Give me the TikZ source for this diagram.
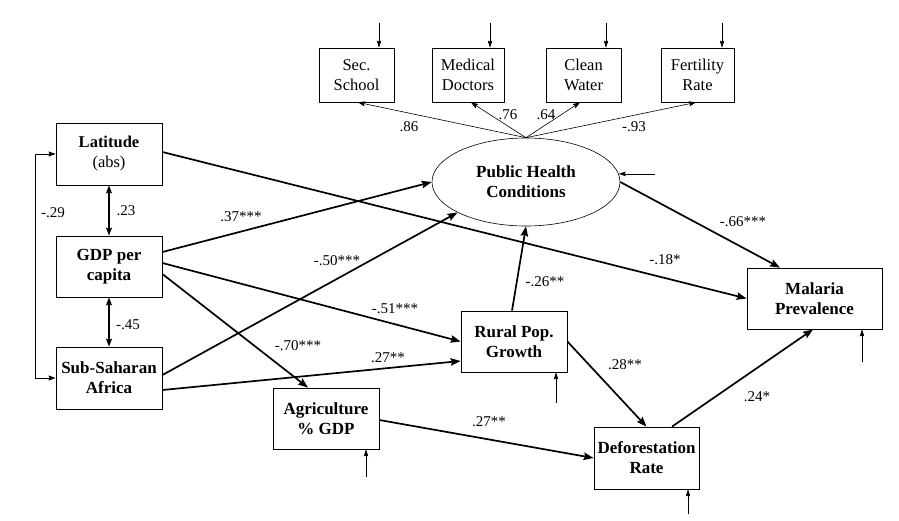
\documentclass[tikz,border=0pt]{standalone}
\usepackage{fontspec}
\setmainfont{Liberation Serif}
\usetikzlibrary{arrows.meta,calc,shapes.geometric}
\begin{document}
\begin{tikzpicture}[x=1pt,y=-1pt,
  box/.style={draw,line width=0.8pt,inner sep=1pt,align=center,font=\fontsize{16.5}{20}\selectfont},
  bbox/.style={box,font=\fontsize{17}{20}\selectfont\bfseries},
  thk/.style={line width=1.7pt,-{Stealth[length=10pt,width=7.5pt,inset=1.5pt]}},
  dbl/.style={line width=1.6pt,{Stealth[length=8pt,width=6pt,inset=1.5pt]}-{Stealth[length=8pt,width=6pt,inset=1.5pt]}},
  brk/.style={line width=1pt,{Stealth[length=7pt,width=5pt,inset=1pt]}-{Stealth[length=7pt,width=5pt,inset=1pt]}},
  ld/.style={line width=0.6pt,-{Stealth[length=7pt,width=5pt,inset=1pt]}},
  err/.style={line width=0.6pt,-{Stealth[length=7pt,width=4.5pt,inset=1pt]}},
  lbl/.style={font=\fontsize{15}{17}\selectfont,inner sep=0pt}]
\useasboundingbox (0,0) rectangle (899,520);
% indicator boxes
\node[box,minimum width=75pt,minimum height=54pt] (sec) at (356.5,75) {Sec.\\School};
\node[box,minimum width=72pt,minimum height=54pt] (med) at (468,75) {Medical\\Doctors};
\node[box,minimum width=75pt,minimum height=54pt] (clean) at (583.5,75) {Clean\\Water};
\node[box,minimum width=73pt,minimum height=54pt] (fert) at (697.5,75) {Fertility\\Rate};
% latent
\node[ellipse,draw,line width=0.6pt,inner sep=0pt,minimum width=188pt,minimum height=88pt,align=center,font=\fontsize{17}{20}\selectfont\bfseries] (phc) at (526,182) {Public Health\\Conditions};
% left boxes
\node[box,minimum width=106pt,minimum height=62pt] (lat) at (109,154) {\textbf{Latitude}\\(abs)};
\node[bbox,minimum width=106pt,minimum height=61pt] (gdp) at (109,266.5) {GDP per\\capita};
\node[bbox,minimum width=106pt,minimum height=62pt] (ssa) at (109,378) {Sub-Saharan\\Africa};
% middle / right boxes
\node[bbox,minimum width=106pt,minimum height=61pt] (agri) at (326,418.5) {Agriculture\\\% GDP};
\node[bbox,minimum width=106pt,minimum height=61pt] (rural) at (514,341.5) {Rural Pop.\\Growth};
\node[bbox,minimum width=105pt,minimum height=62pt] (defo) at (646.5,458) {Deforestation\\Rate};
\node[bbox,minimum width=135pt,minimum height=61pt] (mal) at (814.5,298.5) {Malaria\\Prevalence};
% loadings
\draw[ld] (phc.north) -- ([xshift=1.5pt]sec.south);
\draw[ld] (phc.north) -- ([xshift=3pt]med.south);
\draw[ld] (phc.north) -- ([xshift=-3.5pt]clean.south);
\draw[ld] (phc.north) -- ([xshift=-1.5pt]fert.south);
% error terms of indicators
\draw[err] ([xshift=22.5pt,yshift=25pt]sec.north) -- ([xshift=22.5pt]sec.north);
\draw[err] ([xshift=22pt,yshift=25pt]med.north) -- ([xshift=22pt]med.north);
\draw[err] ([xshift=22.5pt,yshift=25pt]clean.north) -- ([xshift=22.5pt]clean.north);
\draw[err] ([xshift=24.5pt,yshift=25pt]fert.north) -- ([xshift=24.5pt]fert.north);
\draw[err] ([xshift=36pt]phc.5) -- (phc.5);
% disturbances
\draw[err] ([xshift=42pt,yshift=-31pt]rural.south) -- ([xshift=42pt]rural.south);
\draw[err] ([xshift=40pt,yshift=-28pt]agri.south) -- ([xshift=40pt]agri.south);
\draw[err] ([xshift=41.5pt,yshift=-25pt]defo.south) -- ([xshift=41.5pt]defo.south);
\draw[err] ([xshift=47.5pt,yshift=-33pt]mal.south) -- ([xshift=47.5pt]mal.south);
% correlations
\draw[dbl] (lat.south) -- (gdp.north);
\draw[dbl] (gdp.south) -- (ssa.north);
\draw[brk] (lat.west) -- ([xshift=-20pt]lat.west) |- (ssa.west);
% structural paths
\draw[thk] ([yshift=2pt]lat.east) -- (mal.west);
\draw[thk] ([yshift=14.5pt]gdp.east) -- (phc.west);
\draw[thk] ([yshift=3pt]ssa.east) -- (phc.204.5);
\draw[thk] ([yshift=3.5pt]gdp.east) -- (rural.west);
\draw[thk] ([yshift=-7.5pt]gdp.east) -- ([xshift=-18pt]agri.north);
\draw[thk] ([yshift=-12pt]ssa.east) -- ([yshift=-19.5pt]rural.west);
\draw[thk] ([xshift=-2pt]rural.north) -- (phc.south);
\draw[thk] (phc.east) -- ([xshift=-34.5pt]mal.north);
\draw[thk] (rural.east) -- (defo.north);
\draw[thk] ([yshift=-1.5pt]agri.east) -- (defo.west);
\draw[thk] ([xshift=25.5pt]defo.north) -- ([xshift=-1.5pt]mal.south);
% labels
\node[lbl] (l86) at (409,127) {.86};
\node[lbl] (l76) at (508,115) {.76};
\node[lbl] (l64) at (546,115) {.64};
\node[lbl] (l93) at (634,127) {-.93};
\node[lbl] (l23) at (126,211) {.23};
\node[lbl] (l45) at (128,325) {-.45};
\node[lbl] (l29) at (53,213) {-.29};
\node[lbl] (l37) at (241,217) {.37***};
\node[lbl] (l50) at (337,261) {-.50***};
\node[lbl] (l51) at (395,309) {-.51***};
\node[lbl] (l70) at (298,346) {-.70***};
\node[lbl] (l27a) at (388,358) {.27**};
\node[lbl] (l26) at (545,282) {-.26**};
\node[lbl] (l18) at (665,260) {-.18*};
\node[lbl] (l66) at (743,222) {-.66***};
\node[lbl] (l28) at (625,365) {.28**};
\node[lbl] (l27b) at (489,422) {.27**};
\node[lbl] (l24) at (757,397) {.24*};
\end{tikzpicture}
\end{document}
